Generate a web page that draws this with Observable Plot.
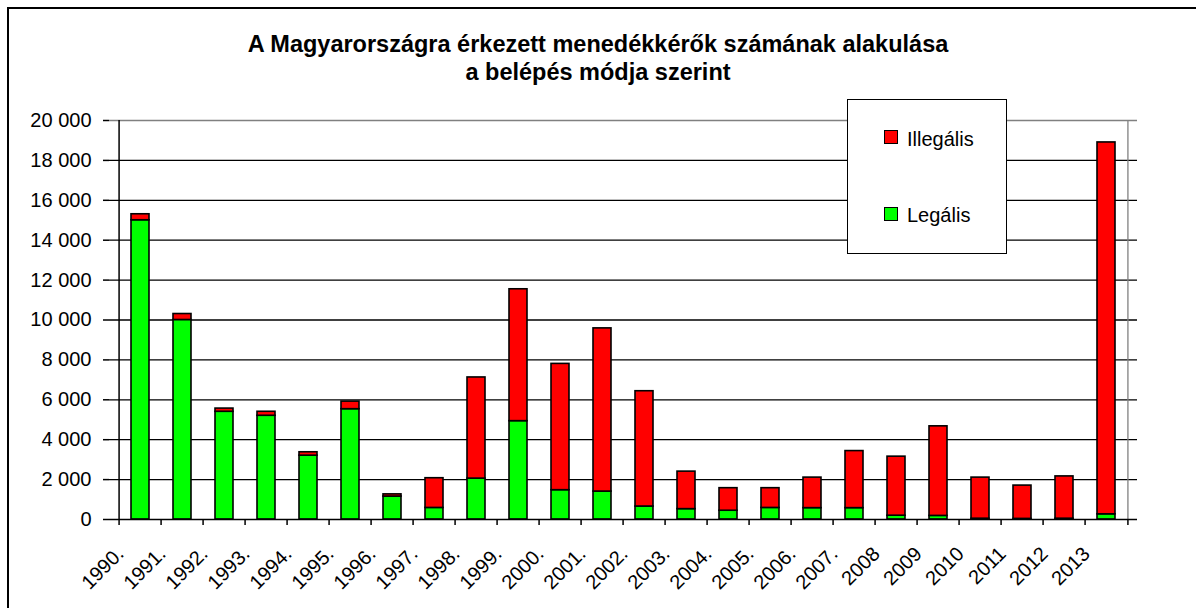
<!DOCTYPE html>
<html><head><meta charset="utf-8">
<script src="https://cdn.jsdelivr.net/npm/d3@7"></script>
<script src="https://cdn.jsdelivr.net/npm/@observablehq/plot@0.6"></script>
<style>
body{margin:0;background:#fff;font-family:"Liberation Sans",Arial,sans-serif;color:#000;}
#wrap{position:relative;width:1196px;height:608px;overflow:hidden;}
#chart{position:absolute;left:0;top:0;}
#frame{position:absolute;left:7px;top:7px;width:1300px;height:700px;border-left:2px solid #000;border-top:2px solid #000;}
#title{position:absolute;left:0;top:30px;width:1196px;text-align:center;font-weight:bold;font-size:23.5px;line-height:28px;}
#legend{position:absolute;left:847px;top:99px;width:158px;height:153px;border:1px solid #000;background:#fff;}
.sw{position:absolute;left:36px;width:12px;height:12px;border:1px solid #000;}
.lt{position:absolute;left:59px;font-size:20px;line-height:20px;white-space:nowrap;}
</style>
</head><body>
<div id="wrap">
  <div id="frame"></div>
  <div id="chart"></div>
  <div id="title">A Magyarországra érkezett menedékkérők számának alakulása<br>a belépés módja szerint</div>
  <div id="legend">
    <div class="sw" style="top:30px;background:#ff0000"></div><div class="lt" style="top:29px">Illegális</div>
    <div class="sw" style="top:107px;background:#00ff00"></div><div class="lt" style="top:105px">Legális</div>
  </div>
</div>
<script>
const years = ["1990.","1991.","1992.","1993.","1994.","1995.","1996.","1997.","1998.","1999.","2000.","2001.","2002.","2003.","2004.","2005.","2006.","2007.","2008","2009","2010","2011","2012","2013"];
const legal   = [15000,10000,5400,5200,3200,5530,1150,580,2050,4930,1470,1400,650,520,440,580,570,570,190,180,40,30,40,260];
const illegal = [300,300,160,200,170,380,110,1490,5070,6610,6330,8180,5780,1880,1130,990,1530,2860,2960,4490,2060,1670,2120,18640];
const seriesNames = ["Legális","Illegális"];
const seriesColors = ["#00ff00","#ff0000"];
const yTicks = d3.range(0, 20001, 2000);

const rows = years.flatMap((y, i) => [
  {year: y, type: seriesNames[0], value: legal[i]},
  {year: y, type: seriesNames[1], value: illegal[i]}
]);

const W = 1196, H = 608, mL = 109, mR = 59, mT = 120, mB = 89;
const step = (W - mL - mR) / years.length;
const fmt = d => d3.format(",")(d).replace(/,/g, " ");

const chart = Plot.plot({
  width: W, height: H,
  marginLeft: mL, marginRight: mR, marginTop: mT, marginBottom: mB,
  style: {fontSize: "20px", fontFamily: "'Liberation Sans', Arial, sans-serif", color: "#000", background: "transparent", overflow: "visible"},
  x: {type: "band", domain: years, paddingInner: 0.58, paddingOuter: 0.29, label: null},
  y: {domain: [0, 20000], label: null},
  color: {domain: seriesNames, range: seriesColors},
  marks: [
    Plot.ruleY(yTicks.slice(1, -1), {stroke: "#000", strokeWidth: 1.3}),
    Plot.ruleY([yTicks[yTicks.length - 1]], {stroke: "#808080", strokeWidth: 1.3}),
    Plot.ruleX([years[years.length - 1]], {dx: step / 2, stroke: "#808080", strokeWidth: 1.3}),
    Plot.barY(rows, {x: "year", y: "value", fill: "type", stroke: "#000", strokeWidth: 1.6, order: seriesNames}),
    Plot.ruleY([0], {stroke: "#000", strokeWidth: 1.5}),
    Plot.ruleX([years[0]], {dx: -step / 2, stroke: "#000", strokeWidth: 1.5}),
    Plot.axisY(yTicks, {tickSize: 6, tickPadding: 12, tickFormat: fmt, strokeWidth: 1.5}),
    Plot.axisX(years, {tickSize: 6, tickFormat: () => "", dx: -step / 2, strokeWidth: 1.5}),
    Plot.axisX(years.slice(-1), {tickSize: 6, tickFormat: () => "", dx: step / 2, strokeWidth: 1.5}),
    Plot.axisX(years, {tickSize: 0, tickRotate: -45, tickPadding: 31, dx: -20})
  ]
});
document.getElementById("chart").appendChild(chart);
</script>
</body></html>
